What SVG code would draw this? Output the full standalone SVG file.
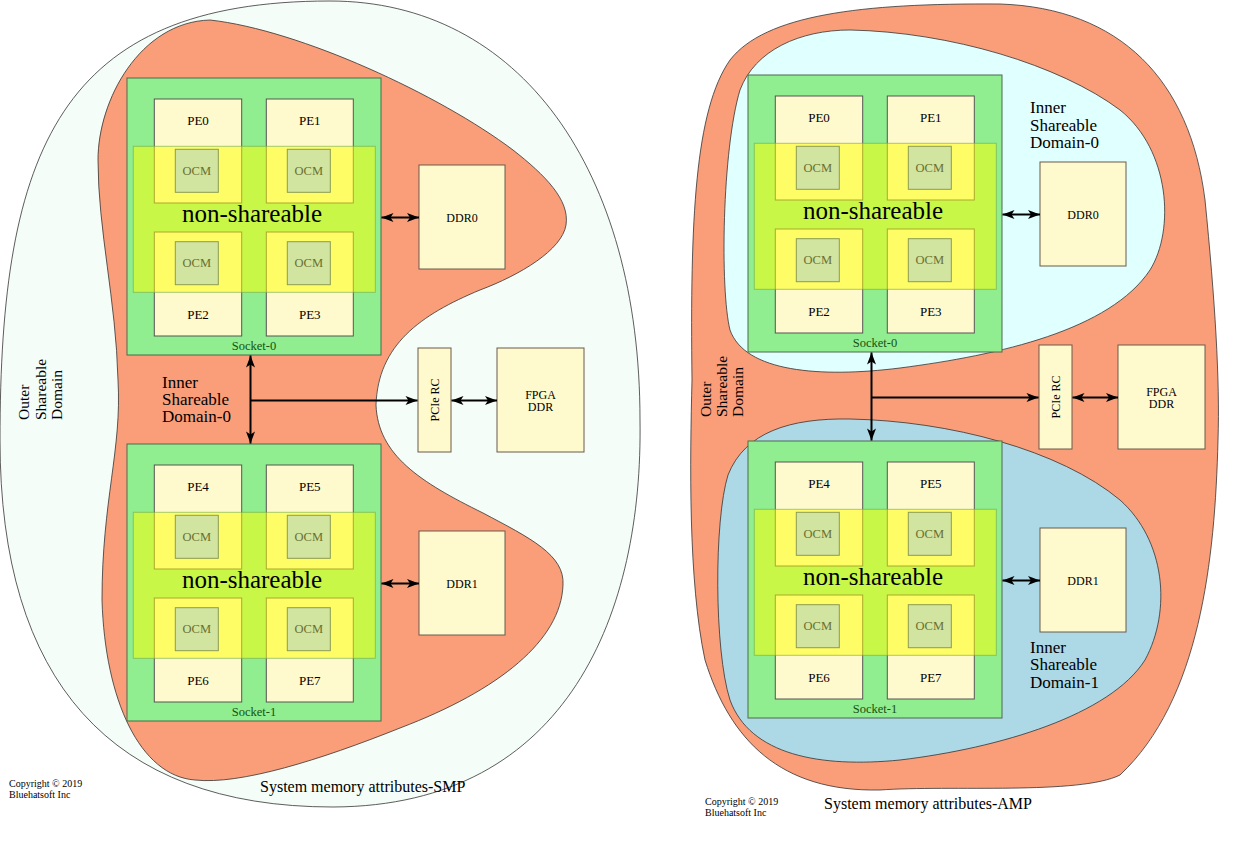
<svg xmlns="http://www.w3.org/2000/svg" width="1259" height="841" viewBox="0 0 1259 841">
<style>
text{font-family:"Liberation Serif","Times New Roman",serif;fill:#000}
.blob{stroke:#333;stroke-width:0.8}
.outer{fill:#f4fdf8}
.orange{fill:#fa9e7a}
.cyan{fill:#e0ffff}
.blue{fill:#add8e6}
.sock{fill:#90ee90;stroke:#4a6a4a;stroke-width:1}
.pe{fill:#fffacd;stroke:#555;stroke-width:1}
.box{fill:#fffacd;stroke:#6a5a4a;stroke-width:1}
.ns{fill:#ffff00;fill-opacity:0.5;stroke:#6aa84f;stroke-opacity:0.6;stroke-width:1}
.ocm{fill:#d1e4a0;stroke:#8c9c50;stroke-width:1}
.lbl{font-size:13px;text-anchor:middle}
.ocmt{font-size:12.5px;text-anchor:middle;fill:#6b7030}
.nst{font-size:25px;text-anchor:middle}
.sockt{font-size:12.5px;text-anchor:middle;fill:#145214}
.bt{font-size:12px;text-anchor:middle}
.dom{font-size:17px}
.odom{font-size:15.5px}
.cap{font-size:16px}
.copy{font-size:10px}
.c{stroke:#000;stroke-width:2;fill:none}
</style>
<defs>
<marker id="ah" viewBox="0 0 14 12" refX="13" refY="6" markerWidth="14" markerHeight="12" markerUnits="userSpaceOnUse" orient="auto-start-reverse"><path d="M1,1.5 L13,6 L1,10.5 L4,6 Z" fill="#000"/></marker>
</defs>
<rect width="1259" height="841" fill="#fff"/>

<!-- ===== LEFT: SMP ===== -->
<g id="smp-outer-domain">
<path class="blob outer" d="M330,1 C520,1 640,170 640,420 C643,610 570,806 333,807 C110,807 0,680 0,440 C0,150 60,1 330,1 Z"/>
</g>
<g id="smp-inner-domain">
<path class="blob orange" d="M210,20 C300,30 440,95 513,150 C545,175 570,200 566,225 C562,250 520,275 480,290 C420,315 378,345 376,405 C378,455 420,482 483,513 C530,538 565,555 563,585 C561,640 500,690 400,728 C320,760 240,785 195,780 C140,776 105,700 102,600 C102,500 122,450 118,380 C116,300 98,230 98,160 C98,100 140,22 210,20 Z"/>
</g>

<g id="smp-socket0" transform="translate(127,78)">
<rect class="sock" x="0" y="0" width="254" height="277"/>
<g id="smp-pe0"><rect class="pe" x="27.3" y="21" width="87.4" height="104"/><text class="lbl" x="71" y="47.3">PE0</text></g>
<g id="smp-pe1"><rect class="pe" x="139.3" y="21" width="87" height="104"/><text class="lbl" x="182.8" y="47.3">PE1</text></g>
<g id="smp-pe2"><rect class="pe" x="27.3" y="154" width="87.4" height="104"/><text class="lbl" x="71" y="241.3">PE2</text></g>
<g id="smp-pe3"><rect class="pe" x="139.3" y="154" width="87" height="104"/><text class="lbl" x="182.8" y="241.3">PE3</text></g>
<rect class="ns" x="6.3" y="68.3" width="242" height="146"/>
<g id="smp-ocm0"><rect class="ocm" x="48.3" y="71.3" width="43" height="43"/><text class="ocmt" x="69.8" y="96.8">OCM</text></g>
<g id="smp-ocm1"><rect class="ocm" x="160.3" y="71.3" width="43" height="43"/><text class="ocmt" x="181.8" y="96.8">OCM</text></g>
<g id="smp-ocm2"><rect class="ocm" x="48.3" y="163.7" width="43" height="43"/><text class="ocmt" x="69.8" y="189.2">OCM</text></g>
<g id="smp-ocm3"><rect class="ocm" x="160.3" y="163.7" width="43" height="43"/><text class="ocmt" x="181.8" y="189.2">OCM</text></g>
<text class="nst" x="125" y="144.3">non-shareable</text>
<text class="sockt" x="127" y="272">Socket-0</text>
</g>

<g id="smp-socket1" transform="translate(127,444)">
<rect class="sock" x="0" y="0" width="254" height="277"/>
<g id="smp-pe4"><rect class="pe" x="27.3" y="21" width="87.4" height="104"/><text class="lbl" x="71" y="47.3">PE4</text></g>
<g id="smp-pe5"><rect class="pe" x="139.3" y="21" width="87" height="104"/><text class="lbl" x="182.8" y="47.3">PE5</text></g>
<g id="smp-pe6"><rect class="pe" x="27.3" y="154" width="87.4" height="104"/><text class="lbl" x="71" y="241.3">PE6</text></g>
<g id="smp-pe7"><rect class="pe" x="139.3" y="154" width="87" height="104"/><text class="lbl" x="182.8" y="241.3">PE7</text></g>
<rect class="ns" x="6.3" y="68.3" width="242" height="146"/>
<g id="smp-ocm4"><rect class="ocm" x="48.3" y="71.3" width="43" height="43"/><text class="ocmt" x="69.8" y="96.8">OCM</text></g>
<g id="smp-ocm5"><rect class="ocm" x="160.3" y="71.3" width="43" height="43"/><text class="ocmt" x="181.8" y="96.8">OCM</text></g>
<g id="smp-ocm6"><rect class="ocm" x="48.3" y="163.7" width="43" height="43"/><text class="ocmt" x="69.8" y="189.2">OCM</text></g>
<g id="smp-ocm7"><rect class="ocm" x="160.3" y="163.7" width="43" height="43"/><text class="ocmt" x="181.8" y="189.2">OCM</text></g>
<text class="nst" x="125" y="144.3">non-shareable</text>
<text class="sockt" x="127" y="272">Socket-1</text>
</g>

<g id="smp-ddr0"><rect class="box" x="419" y="165" width="86" height="104"/><text class="bt" x="462" y="221.5">DDR0</text></g>
<g id="smp-ddr1"><rect class="box" x="419" y="531" width="86" height="104"/><text class="bt" x="462" y="587.5">DDR1</text></g>
<g id="smp-pcie"><rect class="box" x="418" y="348" width="33" height="104"/><text class="bt" transform="translate(439,400) rotate(-90)">PCIe RC</text></g>
<g id="smp-fpga"><rect class="box" x="497" y="348" width="87" height="104"/><text class="bt" x="540.5" y="398.5">FPGA</text><text class="bt" x="540.5" y="410.5">DDR</text></g>

<g id="smp-connectors">
<line class="c" x1="250.5" y1="355.5" x2="250.5" y2="443.5" marker-start="url(#ah)" marker-end="url(#ah)"/>
<line class="c" x1="250.5" y1="400.5" x2="417.5" y2="400.5" marker-end="url(#ah)"/>
<line class="c" x1="451.5" y1="400.5" x2="497" y2="400.5" marker-start="url(#ah)" marker-end="url(#ah)"/>
<line class="c" x1="381.5" y1="217.5" x2="419" y2="217.5" marker-start="url(#ah)" marker-end="url(#ah)"/>
<line class="c" x1="381.5" y1="583.5" x2="419" y2="583.5" marker-start="url(#ah)" marker-end="url(#ah)"/>
</g>

<g id="smp-labels">
<text class="dom" x="162" y="388">Inner</text>
<text class="dom" x="162" y="405">Shareable</text>
<text class="dom" x="162" y="422">Domain-0</text>
<text class="odom" transform="translate(29,420) rotate(-90)">Outer</text>
<text class="odom" transform="translate(45.5,420) rotate(-90)">Shareable</text>
<text class="odom" transform="translate(62,420) rotate(-90)">Domain</text>
<text class="cap" x="260" y="792">System memory attributes-SMP</text>
<text class="copy" x="9" y="786.5">Copyright © 2019</text>
<text class="copy" x="9" y="797.5">Bluehatsoft Inc</text>
</g>

<!-- ===== RIGHT: AMP ===== -->
<g id="amp-outer-domain">
<path class="blob orange" d="M1000,4 C1120,8 1190,80 1205,200 C1215,300 1220,380 1218,440 C1215,560 1200,700 1120,775 C1080,795 950,785 880,790 C780,792 730,740 705,660 C688,580 690,460 692,380 C690,220 695,110 730,60 C765,15 860,3 1000,4 Z"/>
</g>
<g id="amp-inner-domain0">
<path class="blob cyan" d="M850,30 C950,32 1060,65 1120,110 C1170,150 1175,230 1150,270 C1110,330 1000,355 900,368 C820,378 745,372 730,330 C720,290 722,150 740,90 C755,50 800,30 850,30 Z"/>
</g>
<g id="amp-inner-domain1">
<path class="blob blue" d="M850,419 C950,421 1060,450 1120,500 C1165,540 1172,610 1145,660 C1110,715 1000,748 900,760 C820,768 750,755 730,700 C714,650 714,520 728,475 C745,432 790,418 850,419 Z"/>
</g>

<g id="amp-socket0" transform="translate(748,75)">
<rect class="sock" x="0" y="0" width="254" height="277"/>
<g id="amp-pe0"><rect class="pe" x="27.3" y="21" width="87.4" height="104"/><text class="lbl" x="71" y="47.3">PE0</text></g>
<g id="amp-pe1"><rect class="pe" x="139.3" y="21" width="87" height="104"/><text class="lbl" x="182.8" y="47.3">PE1</text></g>
<g id="amp-pe2"><rect class="pe" x="27.3" y="154" width="87.4" height="104"/><text class="lbl" x="71" y="241.3">PE2</text></g>
<g id="amp-pe3"><rect class="pe" x="139.3" y="154" width="87" height="104"/><text class="lbl" x="182.8" y="241.3">PE3</text></g>
<rect class="ns" x="6.3" y="68.3" width="242" height="146"/>
<g id="amp-ocm0"><rect class="ocm" x="48.3" y="71.3" width="43" height="43"/><text class="ocmt" x="69.8" y="96.8">OCM</text></g>
<g id="amp-ocm1"><rect class="ocm" x="160.3" y="71.3" width="43" height="43"/><text class="ocmt" x="181.8" y="96.8">OCM</text></g>
<g id="amp-ocm2"><rect class="ocm" x="48.3" y="163.7" width="43" height="43"/><text class="ocmt" x="69.8" y="189.2">OCM</text></g>
<g id="amp-ocm3"><rect class="ocm" x="160.3" y="163.7" width="43" height="43"/><text class="ocmt" x="181.8" y="189.2">OCM</text></g>
<text class="nst" x="125" y="144.3">non-shareable</text>
<text class="sockt" x="127" y="272">Socket-0</text>
</g>

<g id="amp-socket1" transform="translate(748,441)">
<rect class="sock" x="0" y="0" width="254" height="277"/>
<g id="amp-pe4"><rect class="pe" x="27.3" y="21" width="87.4" height="104"/><text class="lbl" x="71" y="47.3">PE4</text></g>
<g id="amp-pe5"><rect class="pe" x="139.3" y="21" width="87" height="104"/><text class="lbl" x="182.8" y="47.3">PE5</text></g>
<g id="amp-pe6"><rect class="pe" x="27.3" y="154" width="87.4" height="104"/><text class="lbl" x="71" y="241.3">PE6</text></g>
<g id="amp-pe7"><rect class="pe" x="139.3" y="154" width="87" height="104"/><text class="lbl" x="182.8" y="241.3">PE7</text></g>
<rect class="ns" x="6.3" y="68.3" width="242" height="146"/>
<g id="amp-ocm4"><rect class="ocm" x="48.3" y="71.3" width="43" height="43"/><text class="ocmt" x="69.8" y="96.8">OCM</text></g>
<g id="amp-ocm5"><rect class="ocm" x="160.3" y="71.3" width="43" height="43"/><text class="ocmt" x="181.8" y="96.8">OCM</text></g>
<g id="amp-ocm6"><rect class="ocm" x="48.3" y="163.7" width="43" height="43"/><text class="ocmt" x="69.8" y="189.2">OCM</text></g>
<g id="amp-ocm7"><rect class="ocm" x="160.3" y="163.7" width="43" height="43"/><text class="ocmt" x="181.8" y="189.2">OCM</text></g>
<text class="nst" x="125" y="144.3">non-shareable</text>
<text class="sockt" x="127" y="272">Socket-1</text>
</g>

<g id="amp-ddr0"><rect class="box" x="1040" y="162" width="86" height="104"/><text class="bt" x="1083" y="218.5">DDR0</text></g>
<g id="amp-ddr1"><rect class="box" x="1040" y="528" width="86" height="104"/><text class="bt" x="1083" y="584.5">DDR1</text></g>
<g id="amp-pcie"><rect class="box" x="1039" y="345" width="33" height="104"/><text class="bt" transform="translate(1060,397) rotate(-90)">PCIe RC</text></g>
<g id="amp-fpga"><rect class="box" x="1118" y="345" width="87" height="104"/><text class="bt" x="1161.5" y="395.5">FPGA</text><text class="bt" x="1161.5" y="407.5">DDR</text></g>

<g id="amp-connectors">
<line class="c" x1="871.5" y1="352.5" x2="871.5" y2="440.5" marker-start="url(#ah)" marker-end="url(#ah)"/>
<line class="c" x1="871.5" y1="397.5" x2="1038.5" y2="397.5" marker-end="url(#ah)"/>
<line class="c" x1="1072.5" y1="397.5" x2="1118" y2="397.5" marker-start="url(#ah)" marker-end="url(#ah)"/>
<line class="c" x1="1002.5" y1="214.5" x2="1040" y2="214.5" marker-start="url(#ah)" marker-end="url(#ah)"/>
<line class="c" x1="1002.5" y1="580.5" x2="1040" y2="580.5" marker-start="url(#ah)" marker-end="url(#ah)"/>
</g>

<g id="amp-labels">
<text class="dom" x="1030" y="113">Inner</text>
<text class="dom" x="1030" y="130.5">Shareable</text>
<text class="dom" x="1030" y="148">Domain-0</text>
<text class="dom" x="1030" y="652.5">Inner</text>
<text class="dom" x="1030" y="670">Shareable</text>
<text class="dom" x="1030" y="687.5">Domain-1</text>
<text class="odom" transform="translate(711,417) rotate(-90)">Outer</text>
<text class="odom" transform="translate(727,417) rotate(-90)">Shareable</text>
<text class="odom" transform="translate(742.5,417) rotate(-90)">Domain</text>
<text class="cap" x="824" y="808.5">System memory attributes-AMP</text>
<text class="copy" x="705" y="804.5">Copyright © 2019</text>
<text class="copy" x="705" y="815.5">Bluehatsoft Inc</text>
</g>
</svg>
